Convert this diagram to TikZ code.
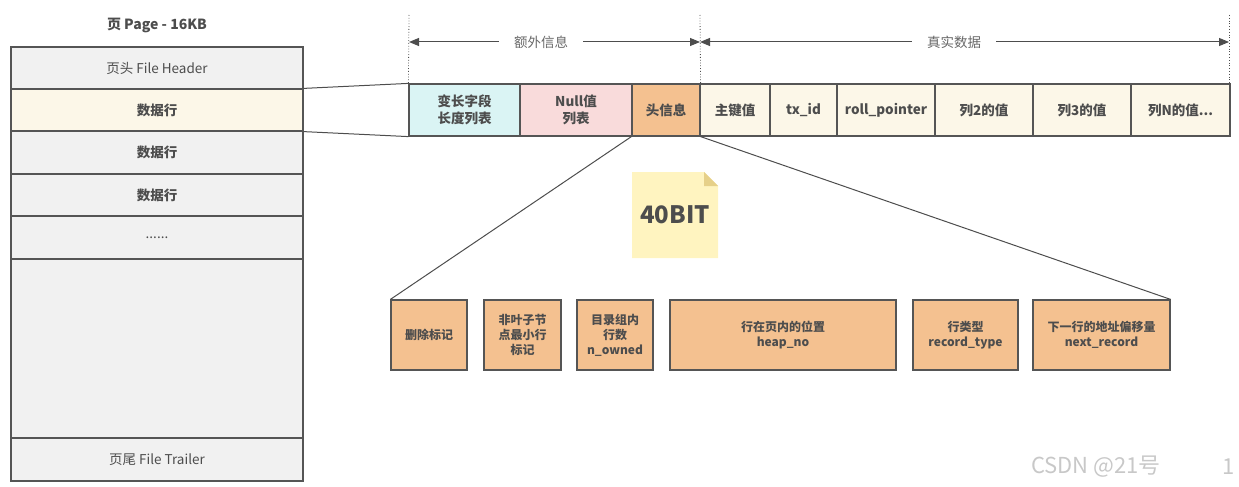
\documentclass[tikz,border=0pt]{standalone}
\usepackage{fontspec}
\setmainfont{Noto Sans CJK SC}
\usetikzlibrary{arrows.meta}
\definecolor{lc}{HTML}{555555}
\definecolor{tc}{HTML}{4D4D4D}
\definecolor{pagefill}{HTML}{F1F1F1}
\definecolor{cream}{HTML}{FCF7E8}
\definecolor{cyanf}{HTML}{DAF4F4}
\definecolor{pinkf}{HTML}{F9DBDB}
\definecolor{orangef}{HTML}{F4C190}
\definecolor{notef}{HTML}{FFF4C0}
\definecolor{foldf}{HTML}{E6D089}
\definecolor{wm}{HTML}{C8C8C8}
\tikzset{
  pagebox/.style={draw=lc, line width=1.2pt, fill=pagefill, minimum width=292pt, text=tc, inner sep=0pt, font=\fontsize{13.5}{17}\selectfont},
  rowcell/.style={draw=lc, line width=1.2pt, fill=cream, minimum height=52pt, text=tc, inner sep=0pt, align=center, font=\fontsize{13.5}{17}\selectfont\bfseries},
  bitcell/.style={draw=lc, line width=1.2pt, fill=orangef, minimum height=70pt, text=tc, inner sep=0pt, align=center, font=\fontsize{12}{15}\selectfont\bfseries},
  conn/.style={draw=tc, line width=1pt},
  guide/.style={draw=tc, dotted, line width=0.8pt},
  dimarrow/.style={draw=tc, line width=1pt, {Triangle[length=10pt,width=8pt]}-{Triangle[length=10pt,width=8pt]}},
  dimlabel/.style={fill=white, text=tc!85, inner xsep=15pt, inner ysep=2pt, font=\fontsize{13.5}{16}\selectfont}
}
\begin{document}
\begin{tikzpicture}[x=1pt, y=-1pt]
\useasboundingbox (0,0) rectangle (1239,487);

% page title
\node[text=tc, font=\fontsize{14}{16}\selectfont\bfseries] (title) at (157,25) {页 Page - 16KB};

% page column
\node[pagebox, minimum height=42pt] (hdr) at (157,68) {页头 File Header};
\node[pagebox, minimum height=42pt, fill=cream, font=\fontsize{13.5}{17}\selectfont\bfseries] (r1) at (157,110) {数据行};
\node[pagebox, minimum height=43pt, font=\fontsize{13.5}{17}\selectfont\bfseries] (r2) at (157,152.5) {数据行};
\node[pagebox, minimum height=42pt, font=\fontsize{13.5}{17}\selectfont\bfseries] (r3) at (157,195) {数据行};
\node[pagebox, minimum height=43pt] (dots) at (157,237.5) {......};
\node[pagebox, minimum height=179pt] (empty) at (157,348.5) {};
\node[pagebox, minimum height=43pt] (trl) at (157,459.5) {页尾 File Trailer};

% record row
\node[rowcell, fill=cyanf, minimum width=111pt] (c1) at (464.5,110) {变长字段\\长度列表};
\node[rowcell, fill=pinkf, minimum width=112pt] (c2) at (576,110) {Null值\\列表};
\node[rowcell, fill=orangef, minimum width=68pt] (hd) at (666,110) {头信息};
\node[rowcell, minimum width=70pt] (c4) at (735,110) {主键值};
\node[rowcell, minimum width=67pt] (c5) at (803.5,110) {tx\_id};
\node[rowcell, minimum width=98pt] (c6) at (886,110) {roll\_pointer};
\node[rowcell, minimum width=98pt] (c7) at (984,110) {列2的值};
\node[rowcell, minimum width=98pt] (c8) at (1082,110) {列3的值};
\node[rowcell, minimum width=99pt] (c9) at (1180.5,110) {列N的值...};

% zoom lines from highlighted page row
\draw[conn] (r1.north east) -- (c1.north west);
\draw[conn] (r1.south east) -- (c1.south west);

% dimension guides
\coordinate (g1) at (409,15);
\coordinate (g2) at (700,15);
\coordinate (g3) at (1229,15);
\coordinate (g3b) at (1229,84);
\draw[guide] (g1) -- (c1.north west);
\draw[guide] (g2) -- (hd.north east);
\draw[guide] (g3) -- (g3b);
\coordinate (a1) at (409,42);
\coordinate (a2) at (700,42);
\coordinate (a3) at (1229,42);
\draw[dimarrow] (a1) -- (a2);
\draw[dimarrow] (a2) -- (a3);
\node[dimlabel] (lx) at (541,42) {额外信息};
\node[dimlabel] (lz) at (954,42) {真实数据};

% 40BIT note
\fill[notef] (632,172) -- (704,172) -- (718,186) -- (718,258) -- (632,258) -- cycle;
\fill[foldf] (704,172) -- (718,186) -- (704,186) -- cycle;
\node[text=tc, font=\fontsize{24}{26}\selectfont\bfseries] (bit) at (675,215) {40BIT};

% bit fields
\node[bitcell, minimum width=76pt] (b1) at (429,335) {删除标记};
\node[bitcell, minimum width=77pt] (b2) at (522.5,335) {非叶子节\\点最小行\\标记};
\node[bitcell, minimum width=76pt] (b3) at (615,335) {目录组内\\行数\\n\_owned};
\node[bitcell, minimum width=226pt] (b4) at (783,335) {行在页内的位置\\heap\_no};
\node[bitcell, minimum width=105pt] (b5) at (965.5,335) {行类型\\record\_type};
\node[bitcell, minimum width=137pt] (b6) at (1101.5,335) {下一行的地址偏移量\\next\_record};

\draw[conn] (hd.south west) -- (b1.north west);
\draw[conn] (hd.south east) -- (b6.north east);

% watermark
\node[text=wm, font=\fontsize{22}{24}\selectfont] (wm1) at (1096,467) {CSDN @21号};
\node[text=wm, font=\fontsize{22}{24}\selectfont] (wm2) at (1229,467) {1};
\end{tikzpicture}
\end{document}
